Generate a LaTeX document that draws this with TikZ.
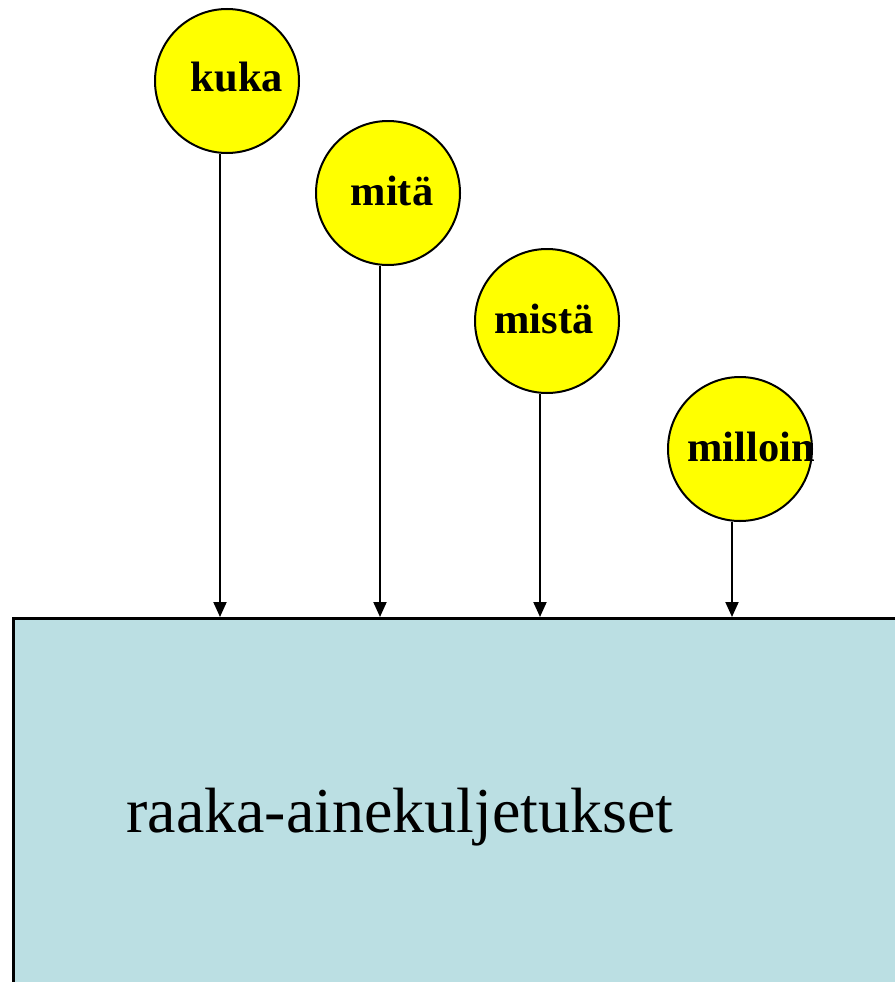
\documentclass[tikz,border=0pt]{standalone}
\usepackage{fontspec}
\setmainfont{Liberation Serif}
\usetikzlibrary{arrows.meta}
\usetikzlibrary{positioning}
\definecolor{ballyellow}{RGB}{255,255,0}
\definecolor{boxblue}{RGB}{187,223,227}
\tikzset{ball/.style = {circle, draw, line width=2pt, fill=ballyellow,
                        minimum size=144pt, inner sep=0pt},
         word/.style = {font=\bfseries\fontsize{42.5}{46}\selectfont, anchor=base},
         feed/.style = {line width=2pt, -{Triangle[length=15pt,width=13pt]}}}

\begin{document}
\begin{tikzpicture}[x=1pt, y=-1pt]
    \useasboundingbox (0,0) rectangle (894,982);

    \node[draw, line width=2.5pt, fill=boxblue, anchor=north west,
          minimum width=900pt, minimum height=380pt] (store) at (12,617) {};
    \node[font=\fontsize{64}{70}\selectfont, anchor=base] (storetext) at (400,832) {raaka-ainekuljetukset};

    \node[ball] (kuka) at (227,81) {};
    \node[ball] (mita) at (388,193) {};
    \node[ball] (mista) at (547,321) {};
    \node[ball] (milloin) at (740,449) {};

    \node[word] (kukatext) at (237,92) {kuka};
    \node[word] (mitatext) at (392,205) {mitä};
    \node[word] (mistatext) at (544,333) {mistä};
    \node[word] (millointext) at (751,461) {milloin};

    \coordinate (kukafoot) at ([xshift=-7pt]kuka.south);
    \coordinate (mitafoot) at ([xshift=-8pt]mita.south);
    \coordinate (mistafoot) at ([xshift=-7pt]mista.south);
    \coordinate (millointfoot) at ([xshift=-8pt]milloin.south);

    \draw[feed] (kukafoot) -- (kukafoot |- store.north);
    \draw[feed] (mitafoot) -- (mitafoot |- store.north);
    \draw[feed] (mistafoot) -- (mistafoot |- store.north);
    \draw[feed] (millointfoot) -- (millointfoot |- store.north);
\end{tikzpicture}
\end{document}
